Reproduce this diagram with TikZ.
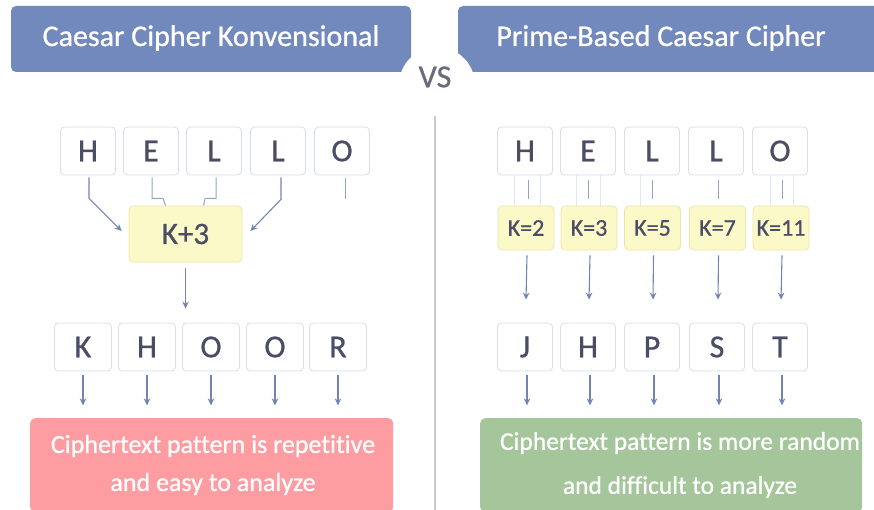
\documentclass[tikz,border=0pt]{standalone}
\usepackage{fontspec}
\setmainfont[Ligatures=NoCommon]{Carlito}
\newfontfamily\heavyfont[FakeBold=0.8,Ligatures=NoCommon]{Carlito}
\usetikzlibrary{arrows.meta}
\definecolor{hdr}{RGB}{113,137,188}
\definecolor{txtdark}{RGB}{75,77,102}
\definecolor{bxborder}{RGB}{217,220,238}
\definecolor{keyfill}{RGB}{252,249,201}
\definecolor{keyborder}{RGB}{236,229,170}
\definecolor{redfill}{RGB}{253,157,161}
\definecolor{greenfill}{RGB}{164,198,154}
\definecolor{arr}{RGB}{115,132,180}
\definecolor{faint}{RGB}{226,229,242}
\definecolor{vsgrey}{RGB}{105,106,122}
\definecolor{divgrey}{RGB}{200,201,210}
\tikzset{
  x=1pt, y=-1pt,
  header/.style={fill=hdr, rounded corners=5pt},
  headtext/.style={text=white, font=\heavyfont\fontsize{30}{32}\selectfont, inner sep=0pt},
  letterbox/.style={draw=bxborder, fill=white, rounded corners=4pt, line width=0.8pt,
    minimum width=55pt, minimum height=48pt, inner sep=0pt, text=txtdark,
    font=\heavyfont\fontsize{32}{34}\selectfont},
  keybox/.style={draw=keyborder, fill=keyfill, rounded corners=4pt, line width=0.8pt,
    inner sep=0pt, text=txtdark},
  arrowline/.style={draw=arr, line width=1.1pt, -{Stealth[length=7pt,width=6.5pt]}},
  softline/.style={draw=arr!75, line width=1pt},
  faintline/.style={draw=faint, line width=1pt},
  resultbox/.style={rounded corners=5pt},
  resulttext/.style={text=white, align=center, inner sep=0pt}
}
\begin{document}
\begin{tikzpicture}
\useasboundingbox (0,0) rectangle (874,510);
% headers
\path[header] (11,6) rectangle (411,72);
\path[header] (458,6) rectangle (890,72);
\fill[white] (437,85) circle (38);
\node[headtext] (h1) at (211,38) {Caesar Cipher Konvensional};
\node[headtext] (h2) at (661,38) {Prime-Based Caesar Cipher};
\node[text=vsgrey, font=\heavyfont\fontsize{32}{34}\selectfont, inner sep=0pt] (vs) at (435,77) {VS};
% divider
\coordinate (d1) at (435,116);
\coordinate (d2) at (435,512);
\draw[divgrey, line width=1.6pt] (d1) -- (d2);

% ---------- left ----------
\foreach \n/\x/\t in {a/88/H,b/151/E,c/214/L,d/278/L,e/342/O}{
  \node[letterbox] (L\n) at (\x,151) {\t};
}
\node[keybox, minimum width=113pt, minimum height=56pt, font=\heavyfont\fontsize{31}{33}\selectfont] (k3) at (185.5,234) {K+3};
\foreach \n/\x/\t in {a/83/K,b/147/H,c/211/O,d/275/O,e/338/R}{
  \node[letterbox, minimum width=57pt] (C\n) at (\x,347) {\t};
}
% connectors into K+3
\draw[arrowline] ([xshift=1pt,yshift=-2pt]La.south) -- ++(0,21) -- ([xshift=-7pt,yshift=3pt]k3.west);
\draw[arrowline] ([xshift=3pt,yshift=-2pt]Ld.south) -- ++(0,22) -- ([xshift=8pt,yshift=3pt]k3.east);
\draw[softline] ([xshift=1pt,yshift=-2pt]Lb.south) -- ++(0,21) -- ++(11,0) -- ([xshift=-20pt]k3.north);
\draw[softline] ([xshift=2pt,yshift=-2pt]Lc.south) -- ++(0,21) -- ++(-11,0) -- ([xshift=18pt]k3.north);
\draw[softline] ([xshift=3pt,yshift=-3pt]Le.south) -- ++(0,21);
\draw[arrowline] ([yshift=-6pt]k3.south) -- ([yshift=14pt]Cc.north -| k3.south);
\foreach \n in {a,b,c,d,e}{
  \draw[arrowline] ([yshift=-4pt]C\n.south) -- ++(0,30);
}
\node[resultbox, fill=redfill, minimum width=363pt, minimum height=94pt, anchor=north west] (red) at (30,418) {};
\node[resulttext, font=\heavyfont\fontsize{26}{38}\selectfont] (redt) at (213,465) {Ciphertext pattern is repetitive\\and easy to analyze};

% ---------- right ----------
\foreach \n/\x/\t in {a/525/H,b/588/E,c/652/L,d/716/L,e/780/O}{
  \node[letterbox] (R\n) at (\x,151) {\t};
}
\foreach \n/\x/\t in {a/526/2,b/589/3,c/652.5/5,d/717.5/7,e/781/11}{
  \node[keybox, minimum width=56pt, minimum height=44pt, font=\heavyfont\fontsize{24}{26}\selectfont] (K\n) at (\x,228) {K=\t};
}
% faint guide lines
\draw[faintline] ([xshift=-11pt]Ra.south) -- ([xshift=-12pt]Ka.north);
\draw[faintline] ([xshift=15pt]Ra.south) -- ([xshift=14pt]Ka.north);
\draw[faintline] ([xshift=-12pt]Rb.south) -- ([xshift=-13pt]Kb.north);
\draw[faintline] ([xshift=12pt]Rb.south) -- ([xshift=11pt]Kb.north);
\draw[faintline] ([xshift=-12pt]Rc.south) -- ([xshift=-12.5pt]Kc.north);
\draw[faintline] ([xshift=-10pt]Re.south) -- ([xshift=-11pt]Ke.north);
\draw[faintline] ([xshift=13pt]Re.south) -- ([xshift=12pt]Ke.north);
\foreach \n/\dx in {a/3,b/0,c/0,d/2,e/2}{
  \draw[softline] ([xshift=\dx pt,yshift=-5pt]R\n.south) -- ++(0,19);
}
\foreach \n/\x/\t in {a/525/J,b/588/H,c/652/P,d/717/S,e/780/T}{
  \node[letterbox] (J\n) at (\x,347) {\t};
}
\foreach \n in {a,b,c,d,e}{
  \draw[arrowline] ([xshift=1pt,yshift=-5pt]K\n.south) -- ([xshift=1pt,yshift=23pt]J\n.north);
  \draw[arrowline] ([xshift=2pt,yshift=-4pt]J\n.south) -- ++(0,30);
}
\node[resultbox, fill=greenfill, minimum width=382pt, minimum height=94pt, anchor=north west] (green) at (480,418) {};
\node[resulttext, font=\heavyfont\fontsize{25.5}{44}\selectfont] (greent) at (680,465) {Ciphertext pattern is more random\\and difficult to analyze};
\end{tikzpicture}
\end{document}
